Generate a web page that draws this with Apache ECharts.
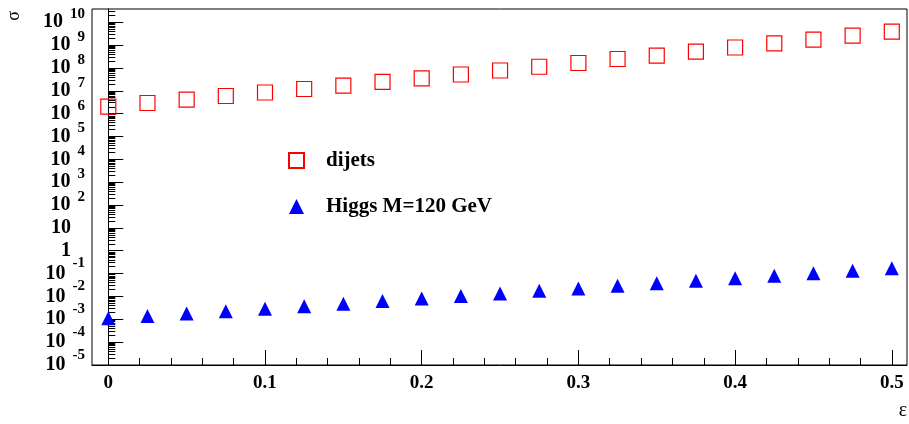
<!DOCTYPE html>
<html><head><meta charset="utf-8">
<script src="https://cdn.jsdelivr.net/npm/echarts@6/dist/echarts.min.js"></script>
<style>html,body{margin:0;padding:0;background:#fff}#c{width:909px;height:424px}</style>
</head><body><div id="c"></div>
<script>
// ---- data ----
const epsilon = [0, 0.025, 0.05, 0.075, 0.1, 0.125, 0.15, 0.175, 0.2, 0.225, 0.25,
                 0.275, 0.3, 0.325, 0.35, 0.375, 0.4, 0.425, 0.45, 0.475, 0.5];
const dijets = [2.01e6, 2.93e6, 4.08e6, 5.92e6, 8.43e6, 1.20e7, 1.67e7, 2.48e7, 3.52e7, 5.17e7, 7.73e7,
                1.13e8, 1.65e8, 2.47e8, 3.44e8, 5.14e8, 7.85e8, 1.20e9, 1.72e9, 2.58e9, 3.86e9];
const higgs = [1.11e-3, 1.39e-3, 1.80e-3, 2.26e-3, 2.91e-3, 3.74e-3, 4.82e-3, 6.32e-3, 8.13e-3, 1.05e-2, 1.35e-2,
               1.77e-2, 2.23e-2, 2.92e-2, 3.80e-2, 4.84e-2, 6.30e-2, 8.02e-2, 1.03e-1, 1.33e-1, 1.71e-1];
const seriesNames = ['dijets', 'Higgs M=120 GeV'];
const xTicks = [0, 0.1, 0.2, 0.3, 0.4, 0.5];
const xMinorTicks = [0.02, 0.04, 0.06, 0.08, 0.12, 0.14, 0.16, 0.18, 0.22, 0.24, 0.26, 0.28,
                     0.32, 0.34, 0.36, 0.38, 0.42, 0.44, 0.46, 0.48];
const yExponents = [-5, -4, -3, -2, -1, 0, 1, 2, 3, 4, 5, 6, 7, 8, 9, 10];
const xRange = [-0.0104, 0.5097];
const yRange = [1e-5, 3.8e10];

// ---- derived ----
const yTicks = yExponents.map(n => Number('1e' + n));
const yMinorTicks = [];
yExponents.forEach(n => { for (let k = 2; k <= 9; k++) { const v = Number(k + 'e' + n); if (v <= yRange[1]) yMinorTicks.push(v); } });
const expOf = v => Math.round(Math.log10(v));
const yTicksEven = yTicks.filter(v => expOf(v) % 2 === 0);
const yTicksOdd = yTicks.filter(v => expOf(v) % 2 !== 0);

const FONT = 'Liberation Serif';
const chart = echarts.init(document.getElementById('c'), null, {renderer: 'canvas'});
const baseStyle = {fontFamily: FONT, fontWeight: 'bold', fontSize: 20, lineHeight: 19, color: '#000'};
const expStyle = {fontFamily: FONT, fontWeight: 'bold', fontSize: 15, lineHeight: 10, color: '#000'};
const hiddenAxisParts = {axisLine: {show: false}, splitLine: {show: false}};
// an overlay axis that only carries the superscript exponents for the given decades
const exponentAxis = values => Object.assign({
  type: 'log', min: yRange[0], max: yRange[1], position: 'left', offset: 0,
  axisTick: {show: false},
  axisLabel: {
    customValues: values, margin: 7, showMinLabel: true, showMaxLabel: true, verticalAlign: 'bottom',
    formatter: v => {
      const n = expOf(v);
      if (n === 0 || n === 1) return '';
      return n > 0 ? '{p|' + n + '}' : '{m|' + n + '}';
    },
    rich: {
      p: Object.assign({}, expStyle, {padding: [0, 0, 6, 0]}),
      m: Object.assign({}, expStyle, {padding: [0, 0, 10, 0]})
    }
  }
}, hiddenAxisParts);

chart.setOption({
  backgroundColor: '#fff',
  animation: false,
  grid: {left: 92, top: 9, right: 2, bottom: 59, show: true, borderColor: '#000', borderWidth: 1, backgroundColor: 'transparent'},
  legend: {
    data: seriesNames, orient: 'vertical', left: 288, top: 150, padding: 0,
    itemWidth: 15, itemHeight: 15, itemGap: 25,
    textStyle: {fontFamily: FONT, fontWeight: 'bold', fontSize: 21, lineHeight: 21, color: '#000', padding: [0, 0, 0, 17]}
  },
  xAxis: [{
    type: 'value', min: xRange[0], max: xRange[1], position: 'bottom',
    axisLine: {show: true, lineStyle: {color: '#000', width: 1}},
    axisTick: {show: true, inside: true, length: 15, customValues: xTicks, lineStyle: {color: '#000'}},
    axisLabel: {customValues: xTicks, margin: 9, showMinLabel: true, showMaxLabel: true,
                fontFamily: FONT, fontWeight: 'bold', fontSize: 19, color: '#000',
                formatter: v => String(Math.round(v * 10) / 10)},
    splitLine: {show: false}
  }, Object.assign({
    type: 'value', min: xRange[0], max: xRange[1], position: 'bottom', offset: 0,
    axisTick: {show: true, inside: true, length: 7, customValues: xMinorTicks, lineStyle: {color: '#000'}},
    axisLabel: {show: false}
  }, hiddenAxisParts)],
  yAxis: [{
    // main decade axis: tick marks + the "10" / "1" bases of the labels
    type: 'log', min: yRange[0], max: yRange[1], position: 'left',
    axisLine: {show: true, lineStyle: {color: '#000', width: 1}},
    axisTick: {show: true, inside: true, length: 15, customValues: yTicks, lineStyle: {color: '#000'}},
    axisLabel: {
      customValues: yTicks, margin: 7, showMinLabel: true, showMaxLabel: true,
      formatter: v => {
        const n = expOf(v);
        if (n === 0) return '{b0|1}';
        if (n === 1) return '{b0|10}';
        return '{b|10}{h|' + n + '}';
      },
      rich: {
        b0: Object.assign({}, baseStyle, {padding: [0, 14, 0, 0]}),
        b: baseStyle,
        h: Object.assign({}, expStyle, {color: 'rgba(0,0,0,0)', padding: [0, 0, 0, 7]})
      }
    },
    splitLine: {show: false}
  }, Object.assign({
    // minor ticks
    type: 'log', min: yRange[0], max: yRange[1], position: 'left', offset: 0,
    axisTick: {show: true, inside: true, length: 7, customValues: yMinorTicks, lineStyle: {color: '#000'}},
    axisLabel: {show: false}
  }, hiddenAxisParts), exponentAxis(yTicksEven), exponentAxis(yTicksOdd)],
  series: [{
    name: seriesNames[0], type: 'scatter', xAxisIndex: 0, yAxisIndex: 0,
    symbol: 'rect', symbolSize: 15,
    itemStyle: {color: 'rgba(255,255,255,0)', borderColor: '#ff0000', borderWidth: 1.2, opacity: 1},
    data: epsilon.map((x, i) => [x, dijets[i]])
  }, {
    name: seriesNames[1], type: 'scatter', xAxisIndex: 0, yAxisIndex: 0,
    symbol: 'triangle', symbolSize: 14,
    itemStyle: {color: '#0000ff', opacity: 1},
    data: epsilon.map((x, i) => [x, higgs[i]])
  }],
  graphic: [
    {type: 'text', x: 14.5, y: 16, rotation: Math.PI / 2,
     style: {text: 'σ', font: '18px "Liberation Serif"', fill: '#000', align: 'center', verticalAlign: 'middle'}},
    {type: 'text', x: 903, y: 411,
     style: {text: 'ε', font: '20px "Liberation Serif"', fill: '#000', align: 'center', verticalAlign: 'middle'}}
  ]
});
</script></body></html>
